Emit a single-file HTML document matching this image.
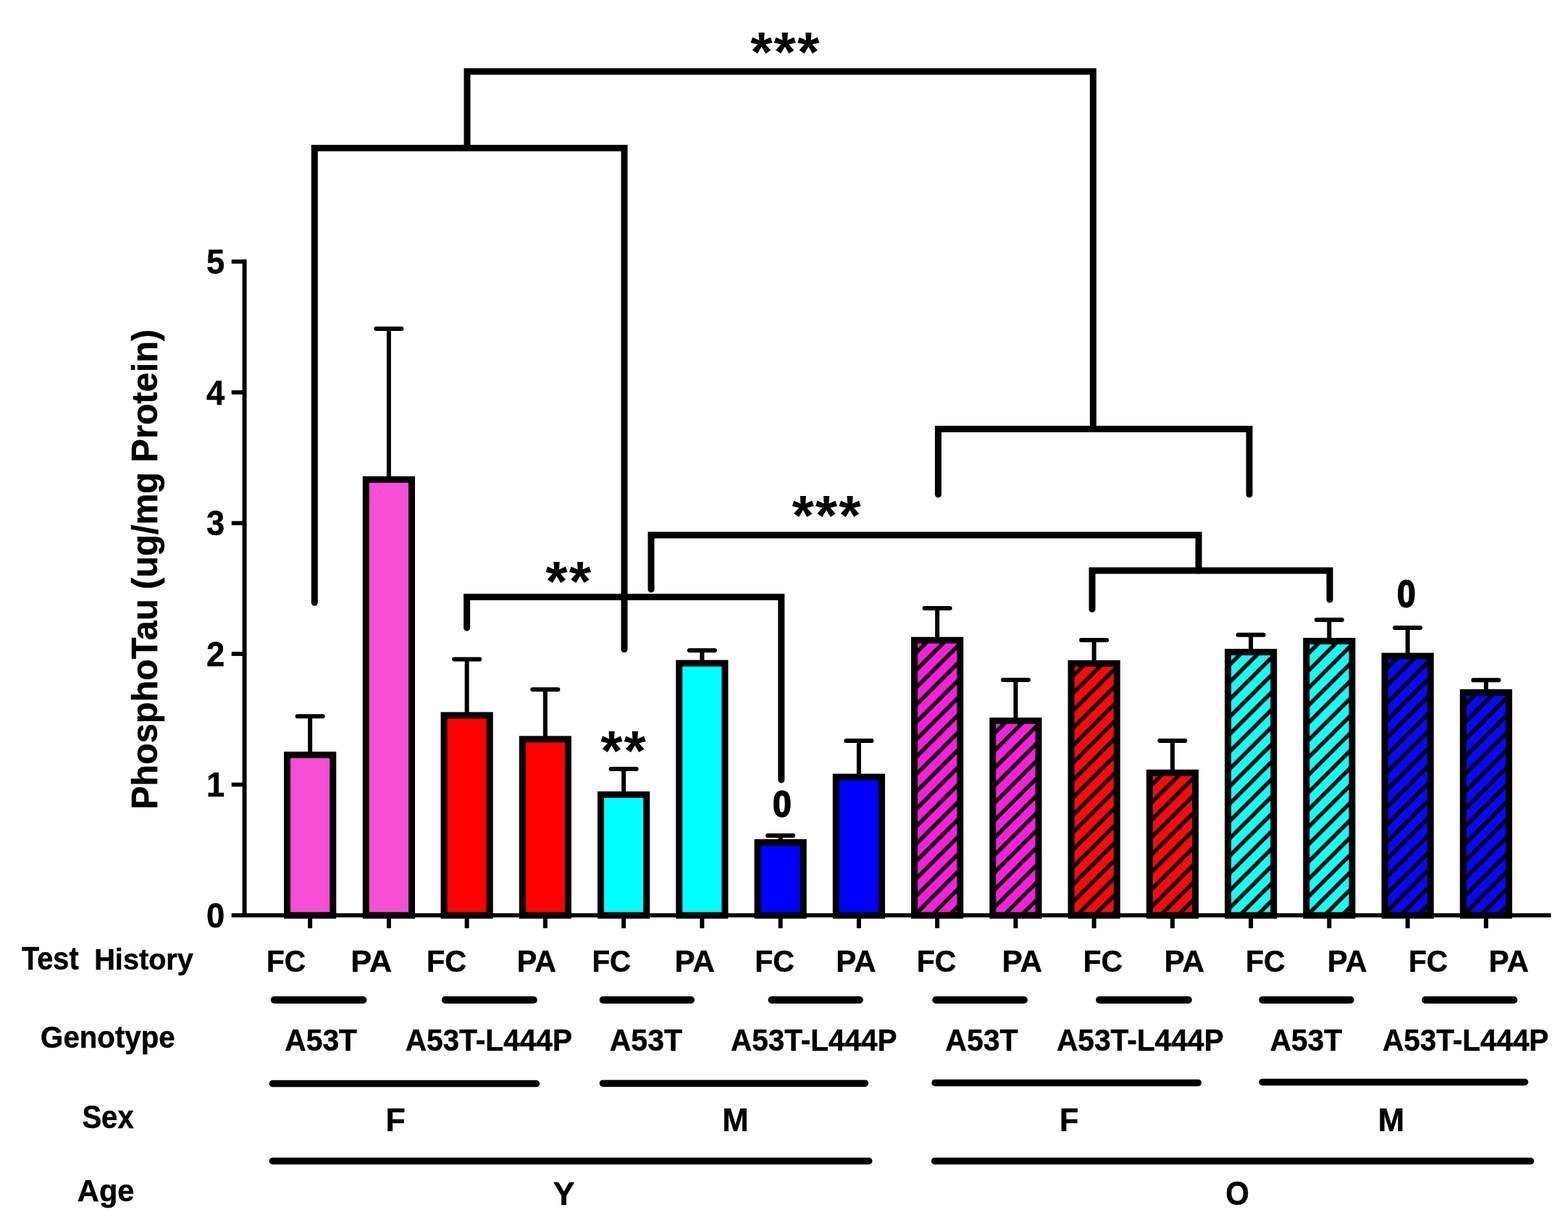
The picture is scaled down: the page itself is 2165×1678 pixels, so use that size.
<!DOCTYPE html>
<html><head><meta charset="utf-8"><title>PhosphoTau chart</title>
<style>html,body{margin:0;padding:0;background:#fff;}svg{display:block;}</style>
</head><body>
<svg width="2165" height="1678" viewBox="0 0 2165 1678">
<defs>
<pattern id="h8" patternUnits="userSpaceOnUse" width="24" height="24" x="1277.82" y="888.70"><rect width="24" height="24" fill="#FA1EDC"/><path d="M-6,6 L6,-6 M-6,30 L30,-6 M18,30 L30,18" stroke="#000" stroke-width="5.5"/></pattern>
<pattern id="h9" patternUnits="userSpaceOnUse" width="24" height="24" x="1386.06" y="1000.00"><rect width="24" height="24" fill="#FA1EDC"/><path d="M-6,6 L6,-6 M-6,30 L30,-6 M18,30 L30,18" stroke="#000" stroke-width="5.5"/></pattern>
<pattern id="h10" patternUnits="userSpaceOnUse" width="24" height="24" x="1494.31" y="920.80"><rect width="24" height="24" fill="#FF0808"/><path d="M-6,6 L6,-6 M-6,30 L30,-6 M18,30 L30,18" stroke="#000" stroke-width="5.5"/></pattern>
<pattern id="h11" patternUnits="userSpaceOnUse" width="24" height="24" x="1602.56" y="1071.80"><rect width="24" height="24" fill="#FF0808"/><path d="M-6,6 L6,-6 M-6,30 L30,-6 M18,30 L30,18" stroke="#000" stroke-width="5.5"/></pattern>
<pattern id="h12" patternUnits="userSpaceOnUse" width="24" height="24" x="1710.80" y="905.10"><rect width="24" height="24" fill="#12FFF4"/><path d="M-6,6 L6,-6 M-6,30 L30,-6 M18,30 L30,18" stroke="#000" stroke-width="5.5"/></pattern>
<pattern id="h13" patternUnits="userSpaceOnUse" width="24" height="24" x="1819.05" y="889.90"><rect width="24" height="24" fill="#12FFF4"/><path d="M-6,6 L6,-6 M-6,30 L30,-6 M18,30 L30,18" stroke="#000" stroke-width="5.5"/></pattern>
<pattern id="h14" patternUnits="userSpaceOnUse" width="24" height="24" x="1927.30" y="910.60"><rect width="24" height="24" fill="#0808FF"/><path d="M-6,6 L6,-6 M-6,30 L30,-6 M18,30 L30,18" stroke="#000" stroke-width="5.5"/></pattern>
<pattern id="h15" patternUnits="userSpaceOnUse" width="24" height="24" x="2035.54" y="960.80"><rect width="24" height="24" fill="#0808FF"/><path d="M-6,6 L6,-6 M-6,30 L30,-6 M18,30 L30,18" stroke="#000" stroke-width="5.5"/></pattern>
</defs>
<rect width="2165" height="1678" fill="#fff"/>
<line x1="428.14" y1="1043.10" x2="428.14" y2="989.20" stroke="#000" stroke-width="6"/>
<line x1="410.64" y1="989.20" x2="445.64" y2="989.20" stroke="#000" stroke-width="6" stroke-linecap="round"/>
<line x1="536.89" y1="662.70" x2="536.89" y2="453.90" stroke="#000" stroke-width="6"/>
<line x1="519.39" y1="453.90" x2="554.39" y2="453.90" stroke="#000" stroke-width="6" stroke-linecap="round"/>
<line x1="644.63" y1="988.40" x2="644.63" y2="910.60" stroke="#000" stroke-width="6"/>
<line x1="627.13" y1="910.60" x2="662.13" y2="910.60" stroke="#000" stroke-width="6" stroke-linecap="round"/>
<line x1="752.88" y1="1021.40" x2="752.88" y2="952.20" stroke="#000" stroke-width="6"/>
<line x1="735.38" y1="952.20" x2="770.38" y2="952.20" stroke="#000" stroke-width="6" stroke-linecap="round"/>
<line x1="861.13" y1="1098.00" x2="861.13" y2="1061.90" stroke="#000" stroke-width="6"/>
<line x1="843.63" y1="1061.90" x2="878.63" y2="1061.90" stroke="#000" stroke-width="6" stroke-linecap="round"/>
<line x1="969.38" y1="916.50" x2="969.38" y2="898.30" stroke="#000" stroke-width="6"/>
<line x1="951.88" y1="898.30" x2="986.88" y2="898.30" stroke="#000" stroke-width="6" stroke-linecap="round"/>
<line x1="1077.62" y1="1164.00" x2="1077.62" y2="1154.00" stroke="#000" stroke-width="6"/>
<line x1="1060.12" y1="1154.00" x2="1095.12" y2="1154.00" stroke="#000" stroke-width="6" stroke-linecap="round"/>
<line x1="1185.87" y1="1073.60" x2="1185.87" y2="1022.90" stroke="#000" stroke-width="6"/>
<line x1="1168.37" y1="1022.90" x2="1203.37" y2="1022.90" stroke="#000" stroke-width="6" stroke-linecap="round"/>
<line x1="1294.12" y1="884.70" x2="1294.12" y2="840.00" stroke="#000" stroke-width="6"/>
<line x1="1276.62" y1="840.00" x2="1311.62" y2="840.00" stroke="#000" stroke-width="6" stroke-linecap="round"/>
<line x1="1402.36" y1="996.00" x2="1402.36" y2="939.00" stroke="#000" stroke-width="6"/>
<line x1="1384.86" y1="939.00" x2="1419.86" y2="939.00" stroke="#000" stroke-width="6" stroke-linecap="round"/>
<line x1="1510.61" y1="916.80" x2="1510.61" y2="883.90" stroke="#000" stroke-width="6"/>
<line x1="1493.11" y1="883.90" x2="1528.11" y2="883.90" stroke="#000" stroke-width="6" stroke-linecap="round"/>
<line x1="1618.86" y1="1067.80" x2="1618.86" y2="1023.00" stroke="#000" stroke-width="6"/>
<line x1="1601.36" y1="1023.00" x2="1636.36" y2="1023.00" stroke="#000" stroke-width="6" stroke-linecap="round"/>
<line x1="1727.10" y1="901.10" x2="1727.10" y2="876.80" stroke="#000" stroke-width="6"/>
<line x1="1709.60" y1="876.80" x2="1744.60" y2="876.80" stroke="#000" stroke-width="6" stroke-linecap="round"/>
<line x1="1835.35" y1="885.90" x2="1835.35" y2="855.90" stroke="#000" stroke-width="6"/>
<line x1="1817.85" y1="855.90" x2="1852.85" y2="855.90" stroke="#000" stroke-width="6" stroke-linecap="round"/>
<line x1="1943.60" y1="906.60" x2="1943.60" y2="867.00" stroke="#000" stroke-width="6"/>
<line x1="1926.10" y1="867.00" x2="1961.10" y2="867.00" stroke="#000" stroke-width="6" stroke-linecap="round"/>
<line x1="2051.84" y1="956.80" x2="2051.84" y2="939.20" stroke="#000" stroke-width="6"/>
<line x1="2034.34" y1="939.20" x2="2069.34" y2="939.20" stroke="#000" stroke-width="6" stroke-linecap="round"/>
<rect x="396.54" y="1042.60" width="63.20" height="221.60" fill="#F64ED4" stroke="#000" stroke-width="9"/>
<rect x="505.29" y="662.20" width="63.20" height="602.00" fill="#F64ED4" stroke="#000" stroke-width="9"/>
<rect x="613.03" y="987.90" width="63.20" height="276.30" fill="#FF0000" stroke="#000" stroke-width="9"/>
<rect x="721.28" y="1020.90" width="63.20" height="243.30" fill="#FF0000" stroke="#000" stroke-width="9"/>
<rect x="829.53" y="1097.50" width="63.20" height="166.70" fill="#00FFFF" stroke="#000" stroke-width="9"/>
<rect x="937.77" y="916.00" width="63.20" height="348.20" fill="#00FFFF" stroke="#000" stroke-width="9"/>
<rect x="1046.02" y="1163.50" width="63.20" height="100.70" fill="#0000FF" stroke="#000" stroke-width="9"/>
<rect x="1154.27" y="1073.10" width="63.20" height="191.10" fill="#0000FF" stroke="#000" stroke-width="9"/>
<rect x="1262.52" y="884.20" width="63.20" height="380.00" fill="url(#h8)" stroke="#000" stroke-width="9"/>
<rect x="1370.76" y="995.50" width="63.20" height="268.70" fill="url(#h9)" stroke="#000" stroke-width="9"/>
<rect x="1479.01" y="916.30" width="63.20" height="347.90" fill="url(#h10)" stroke="#000" stroke-width="9"/>
<rect x="1587.26" y="1067.30" width="63.20" height="196.90" fill="url(#h11)" stroke="#000" stroke-width="9"/>
<rect x="1695.50" y="900.60" width="63.20" height="363.60" fill="url(#h12)" stroke="#000" stroke-width="9"/>
<rect x="1803.75" y="885.40" width="63.20" height="378.80" fill="url(#h13)" stroke="#000" stroke-width="9"/>
<rect x="1912.00" y="906.10" width="63.20" height="358.10" fill="url(#h14)" stroke="#000" stroke-width="9"/>
<rect x="2020.24" y="956.30" width="63.20" height="307.90" fill="url(#h15)" stroke="#000" stroke-width="9"/>
<line x1="337.6" y1="358.4" x2="337.6" y2="1267.05" stroke="#000" stroke-width="6"/>
<line x1="319.7" y1="1264.20" x2="2141.5" y2="1264.20" stroke="#000" stroke-width="5.7"/>
<line x1="319.7" y1="1083.62" x2="340" y2="1083.62" stroke="#000" stroke-width="5.7"/>
<line x1="319.7" y1="903.04" x2="340" y2="903.04" stroke="#000" stroke-width="5.7"/>
<line x1="319.7" y1="722.46" x2="340" y2="722.46" stroke="#000" stroke-width="5.7"/>
<line x1="319.7" y1="541.88" x2="340" y2="541.88" stroke="#000" stroke-width="5.7"/>
<line x1="319.7" y1="361.30" x2="340" y2="361.30" stroke="#000" stroke-width="5.7"/>
<line x1="428.14" y1="1264.20" x2="428.14" y2="1282" stroke="#000" stroke-width="6"/>
<line x1="536.89" y1="1264.20" x2="536.89" y2="1282" stroke="#000" stroke-width="6"/>
<line x1="644.63" y1="1264.20" x2="644.63" y2="1282" stroke="#000" stroke-width="6"/>
<line x1="752.88" y1="1264.20" x2="752.88" y2="1282" stroke="#000" stroke-width="6"/>
<line x1="861.13" y1="1264.20" x2="861.13" y2="1282" stroke="#000" stroke-width="6"/>
<line x1="969.38" y1="1264.20" x2="969.38" y2="1282" stroke="#000" stroke-width="6"/>
<line x1="1077.62" y1="1264.20" x2="1077.62" y2="1282" stroke="#000" stroke-width="6"/>
<line x1="1185.87" y1="1264.20" x2="1185.87" y2="1282" stroke="#000" stroke-width="6"/>
<line x1="1294.12" y1="1264.20" x2="1294.12" y2="1282" stroke="#000" stroke-width="6"/>
<line x1="1402.36" y1="1264.20" x2="1402.36" y2="1282" stroke="#000" stroke-width="6"/>
<line x1="1510.61" y1="1264.20" x2="1510.61" y2="1282" stroke="#000" stroke-width="6"/>
<line x1="1618.86" y1="1264.20" x2="1618.86" y2="1282" stroke="#000" stroke-width="6"/>
<line x1="1727.10" y1="1264.20" x2="1727.10" y2="1282" stroke="#000" stroke-width="6"/>
<line x1="1835.35" y1="1264.20" x2="1835.35" y2="1282" stroke="#000" stroke-width="6"/>
<line x1="1943.60" y1="1264.20" x2="1943.60" y2="1282" stroke="#000" stroke-width="6"/>
<line x1="2051.84" y1="1264.20" x2="2051.84" y2="1282" stroke="#000" stroke-width="6"/>
<path d="M645,204.6 L645,98.7 L1509.3,98.7 L1509.3,592.6" fill="none" stroke="#000" stroke-width="9" stroke-linecap="round" stroke-linejoin="miter"/>
<path d="M434.3,832.3 L434.3,204.6 L862,204.6 L862,896.8" fill="none" stroke="#000" stroke-width="9" stroke-linecap="round" stroke-linejoin="miter"/>
<path d="M1295.4,682.7 L1295.4,592.6 L1725,592.6 L1725,682.7" fill="none" stroke="#000" stroke-width="9" stroke-linecap="round" stroke-linejoin="miter"/>
<path d="M644.6,867 L644.6,824.5 L1078.8,824.5 L1078.8,1077" fill="none" stroke="#000" stroke-width="9" stroke-linecap="round" stroke-linejoin="miter"/>
<path d="M899,813.9 L899,739 L1655,739 L1655,788" fill="none" stroke="#000" stroke-width="9" stroke-linecap="round" stroke-linejoin="miter"/>
<path d="M1508,841.3 L1508,788 L1836,788 L1836,828" fill="none" stroke="#000" stroke-width="9" stroke-linecap="round" stroke-linejoin="miter"/>
<text transform="translate(310.3,1280.92) scale(0.955,1)" font-size="47.5" text-anchor="end" font-family="'Liberation Sans', Arial, Helvetica, sans-serif" font-weight="bold" stroke="#000" stroke-width="0.5">0</text>
<text transform="translate(310.3,1100.35) scale(0.955,1)" font-size="47.5" text-anchor="end" font-family="'Liberation Sans', Arial, Helvetica, sans-serif" font-weight="bold" stroke="#000" stroke-width="0.5">1</text>
<text transform="translate(310.3,919.76) scale(0.955,1)" font-size="47.5" text-anchor="end" font-family="'Liberation Sans', Arial, Helvetica, sans-serif" font-weight="bold" stroke="#000" stroke-width="0.5">2</text>
<text transform="translate(310.3,739.19) scale(0.955,1)" font-size="47.5" text-anchor="end" font-family="'Liberation Sans', Arial, Helvetica, sans-serif" font-weight="bold" stroke="#000" stroke-width="0.5">3</text>
<text transform="translate(310.3,558.61) scale(0.955,1)" font-size="47.5" text-anchor="end" font-family="'Liberation Sans', Arial, Helvetica, sans-serif" font-weight="bold" stroke="#000" stroke-width="0.5">4</text>
<text transform="translate(310.3,378.02) scale(0.955,1)" font-size="47.5" text-anchor="end" font-family="'Liberation Sans', Arial, Helvetica, sans-serif" font-weight="bold" stroke="#000" stroke-width="0.5">5</text>
<text transform="translate(216.96,1118.10) rotate(-90) scale(0.9600,1)" font-size="50.65" font-family="'Liberation Sans', Arial, Helvetica, sans-serif" font-weight="bold" stroke="#000" stroke-width="0.5">PhosphoTau (ug/mg Protein)</text>
<text x="1084.80" y="98.52" font-size="78" text-anchor="middle" letter-spacing="2" font-family="'Liberation Sans', Arial, Helvetica, sans-serif" font-weight="bold">***</text>
<text x="1142.05" y="738.52" font-size="78" text-anchor="middle" letter-spacing="2" font-family="'Liberation Sans', Arial, Helvetica, sans-serif" font-weight="bold">***</text>
<text x="785.65" y="830.32" font-size="78" text-anchor="middle" letter-spacing="2" font-family="'Liberation Sans', Arial, Helvetica, sans-serif" font-weight="bold">**</text>
<text x="861.55" y="1064.32" font-size="78" text-anchor="middle" letter-spacing="2" font-family="'Liberation Sans', Arial, Helvetica, sans-serif" font-weight="bold">**</text>
<text transform="translate(1067.00,1128.05) scale(0.9198,1)" font-size="50.28" font-family="'Liberation Sans', Arial, Helvetica, sans-serif" font-weight="bold" stroke="#000" stroke-width="1.8" >0</text>
<text transform="translate(1929.11,837.64) scale(0.9005,1)" font-size="51.13" font-family="'Liberation Sans', Arial, Helvetica, sans-serif" font-weight="bold" stroke="#000" stroke-width="1.8" >0</text>
<text transform="translate(29.90,1339.36) scale(0.9122,1)" font-size="43.57" font-family="'Liberation Sans', Arial, Helvetica, sans-serif" font-weight="bold" stroke="#000" stroke-width="0.5" >Test</text>
<text transform="translate(130.22,1338.95) scale(0.9634,1)" font-size="41.18" font-family="'Liberation Sans', Arial, Helvetica, sans-serif" font-weight="bold" stroke="#000" stroke-width="0.5" >History</text>
<text transform="translate(367.95,1341.98) scale(0.9685,1)" font-size="41.97" font-family="'Liberation Sans', Arial, Helvetica, sans-serif" font-weight="bold" stroke="#000" stroke-width="0.5" >FC</text>
<text transform="translate(588.90,1341.98) scale(0.9879,1)" font-size="41.97" font-family="'Liberation Sans', Arial, Helvetica, sans-serif" font-weight="bold" stroke="#000" stroke-width="0.5" >FC</text>
<text transform="translate(817.48,1341.98) scale(0.9608,1)" font-size="41.97" font-family="'Liberation Sans', Arial, Helvetica, sans-serif" font-weight="bold" stroke="#000" stroke-width="0.5" >FC</text>
<text transform="translate(1042.22,1341.98) scale(0.9801,1)" font-size="41.97" font-family="'Liberation Sans', Arial, Helvetica, sans-serif" font-weight="bold" stroke="#000" stroke-width="0.5" >FC</text>
<text transform="translate(1265.74,1341.98) scale(0.9743,1)" font-size="41.97" font-family="'Liberation Sans', Arial, Helvetica, sans-serif" font-weight="bold" stroke="#000" stroke-width="0.5" >FC</text>
<text transform="translate(1495.53,1341.98) scale(0.9763,1)" font-size="41.97" font-family="'Liberation Sans', Arial, Helvetica, sans-serif" font-weight="bold" stroke="#000" stroke-width="0.5" >FC</text>
<text transform="translate(1720.04,1341.98) scale(0.9743,1)" font-size="41.97" font-family="'Liberation Sans', Arial, Helvetica, sans-serif" font-weight="bold" stroke="#000" stroke-width="0.5" >FC</text>
<text transform="translate(1945.06,1341.98) scale(0.9666,1)" font-size="41.97" font-family="'Liberation Sans', Arial, Helvetica, sans-serif" font-weight="bold" stroke="#000" stroke-width="0.5" >FC</text>
<text transform="translate(484.27,1342.40) scale(1.0027,1)" font-size="43.19" font-family="'Liberation Sans', Arial, Helvetica, sans-serif" font-weight="bold" stroke="#000" stroke-width="0.5" >PA</text>
<text transform="translate(713.71,1342.40) scale(0.9549,1)" font-size="43.19" font-family="'Liberation Sans', Arial, Helvetica, sans-serif" font-weight="bold" stroke="#000" stroke-width="0.5" >PA</text>
<text transform="translate(931.46,1342.40) scale(0.9740,1)" font-size="43.19" font-family="'Liberation Sans', Arial, Helvetica, sans-serif" font-weight="bold" stroke="#000" stroke-width="0.5" >PA</text>
<text transform="translate(1154.26,1342.40) scale(0.9740,1)" font-size="43.19" font-family="'Liberation Sans', Arial, Helvetica, sans-serif" font-weight="bold" stroke="#000" stroke-width="0.5" >PA</text>
<text transform="translate(1383.54,1342.40) scale(0.9798,1)" font-size="43.19" font-family="'Liberation Sans', Arial, Helvetica, sans-serif" font-weight="bold" stroke="#000" stroke-width="0.5" >PA</text>
<text transform="translate(1607.45,1342.40) scale(0.9759,1)" font-size="43.19" font-family="'Liberation Sans', Arial, Helvetica, sans-serif" font-weight="bold" stroke="#000" stroke-width="0.5" >PA</text>
<text transform="translate(1832.68,1342.40) scale(0.9664,1)" font-size="43.19" font-family="'Liberation Sans', Arial, Helvetica, sans-serif" font-weight="bold" stroke="#000" stroke-width="0.5" >PA</text>
<text transform="translate(2055.55,1342.40) scale(0.9759,1)" font-size="43.19" font-family="'Liberation Sans', Arial, Helvetica, sans-serif" font-weight="bold" stroke="#000" stroke-width="0.5" >PA</text>
<line x1="378.70" y1="1381" x2="501.40" y2="1381" stroke="#000" stroke-width="10" stroke-linecap="round"/>
<line x1="614.80" y1="1381" x2="736.90" y2="1381" stroke="#000" stroke-width="10" stroke-linecap="round"/>
<line x1="832.70" y1="1381" x2="954.00" y2="1381" stroke="#000" stroke-width="10" stroke-linecap="round"/>
<line x1="1065.50" y1="1381" x2="1186.80" y2="1381" stroke="#000" stroke-width="10" stroke-linecap="round"/>
<line x1="1292.20" y1="1381" x2="1413.90" y2="1381" stroke="#000" stroke-width="10" stroke-linecap="round"/>
<line x1="1518.00" y1="1381" x2="1640.80" y2="1381" stroke="#000" stroke-width="10" stroke-linecap="round"/>
<line x1="1743.20" y1="1381" x2="1864.70" y2="1381" stroke="#000" stroke-width="10" stroke-linecap="round"/>
<line x1="1968.10" y1="1381" x2="2090.20" y2="1381" stroke="#000" stroke-width="10" stroke-linecap="round"/>
<text transform="translate(56.09,1447.19) scale(0.9492,1)" font-size="42.42" font-family="'Liberation Sans', Arial, Helvetica, sans-serif" font-weight="bold" stroke="#000" stroke-width="0.5" >Genotype</text>
<text transform="translate(393.28,1450.77) scale(0.9465,1)" font-size="43.10" font-family="'Liberation Sans', Arial, Helvetica, sans-serif" font-weight="bold" stroke="#000" stroke-width="0.5" >A53T</text>
<text transform="translate(559.68,1450.77) scale(0.9430,1)" font-size="43.10" font-family="'Liberation Sans', Arial, Helvetica, sans-serif" font-weight="bold" stroke="#000" stroke-width="0.5" >A53T-L444P</text>
<text transform="translate(841.67,1450.77) scale(0.9523,1)" font-size="43.10" font-family="'Liberation Sans', Arial, Helvetica, sans-serif" font-weight="bold" stroke="#000" stroke-width="0.5" >A53T</text>
<text transform="translate(1008.98,1450.77) scale(0.9401,1)" font-size="43.10" font-family="'Liberation Sans', Arial, Helvetica, sans-serif" font-weight="bold" stroke="#000" stroke-width="0.5" >A53T-L444P</text>
<text transform="translate(1305.37,1450.77) scale(0.9494,1)" font-size="43.10" font-family="'Liberation Sans', Arial, Helvetica, sans-serif" font-weight="bold" stroke="#000" stroke-width="0.5" >A53T</text>
<text transform="translate(1458.98,1450.77) scale(0.9438,1)" font-size="43.10" font-family="'Liberation Sans', Arial, Helvetica, sans-serif" font-weight="bold" stroke="#000" stroke-width="0.5" >A53T-L444P</text>
<text transform="translate(1753.38,1450.77) scale(0.9474,1)" font-size="43.10" font-family="'Liberation Sans', Arial, Helvetica, sans-serif" font-weight="bold" stroke="#000" stroke-width="0.5" >A53T</text>
<text transform="translate(1909.09,1450.77) scale(0.9385,1)" font-size="43.10" font-family="'Liberation Sans', Arial, Helvetica, sans-serif" font-weight="bold" stroke="#000" stroke-width="0.5" >A53T-L444P</text>
<line x1="376.45" y1="1496.6" x2="740.45" y2="1496.6" stroke="#000" stroke-width="9.5" stroke-linecap="round"/>
<line x1="832.45" y1="1496.2" x2="1194.35" y2="1496.2" stroke="#000" stroke-width="9.5" stroke-linecap="round"/>
<line x1="1291.05" y1="1495.4" x2="1654.25" y2="1495.4" stroke="#000" stroke-width="9.5" stroke-linecap="round"/>
<line x1="1742.95" y1="1494.5" x2="2105.45" y2="1494.5" stroke="#000" stroke-width="9.5" stroke-linecap="round"/>
<text transform="translate(113.40,1558.26) scale(0.9029,1)" font-size="44.37" font-family="'Liberation Sans', Arial, Helvetica, sans-serif" font-weight="bold" stroke="#000" stroke-width="0.5" >Sex</text>
<text transform="translate(532.58,1561.70) scale(1.0024,1)" font-size="44.49" font-family="'Liberation Sans', Arial, Helvetica, sans-serif" font-weight="bold" stroke="#000" stroke-width="0.5" >F</text>
<text transform="translate(997.24,1561.70) scale(0.9825,1)" font-size="44.49" font-family="'Liberation Sans', Arial, Helvetica, sans-serif" font-weight="bold" stroke="#000" stroke-width="0.5" >M</text>
<text transform="translate(1462.99,1561.70) scale(0.9664,1)" font-size="44.49" font-family="'Liberation Sans', Arial, Helvetica, sans-serif" font-weight="bold" stroke="#000" stroke-width="0.5" >F</text>
<text transform="translate(1902.75,1561.70) scale(0.9793,1)" font-size="44.49" font-family="'Liberation Sans', Arial, Helvetica, sans-serif" font-weight="bold" stroke="#000" stroke-width="0.5" >M</text>
<line x1="376.35" y1="1603.5" x2="1199.75" y2="1603.5" stroke="#000" stroke-width="9.5" stroke-linecap="round"/>
<line x1="1290.55" y1="1603.5" x2="2113.55" y2="1603.5" stroke="#000" stroke-width="9.5" stroke-linecap="round"/>
<text transform="translate(106.85,1659.38) scale(0.9574,1)" font-size="43.44" font-family="'Liberation Sans', Arial, Helvetica, sans-serif" font-weight="bold" stroke="#000" stroke-width="0.5" >Age</text>
<text transform="translate(763.81,1663.50) scale(1.0025,1)" font-size="44.49" font-family="'Liberation Sans', Arial, Helvetica, sans-serif" font-weight="bold" stroke="#000" stroke-width="0.5" >Y</text>
<text transform="translate(1692.13,1663.94) scale(0.9172,1)" font-size="45.63" font-family="'Liberation Sans', Arial, Helvetica, sans-serif" font-weight="bold" stroke="#000" stroke-width="0.5" >O</text>
</svg>
</body></html>
